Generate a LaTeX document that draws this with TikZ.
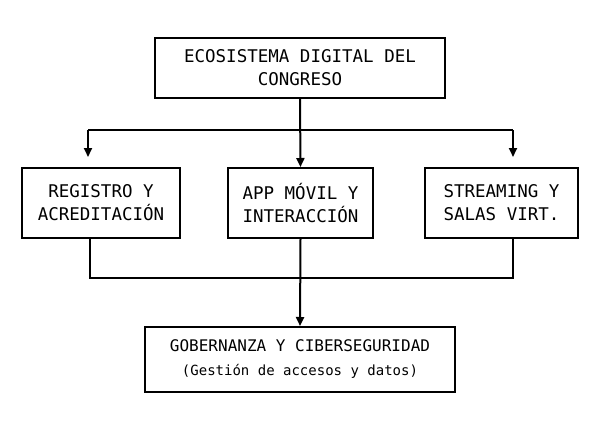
\documentclass[tikz,border=0pt]{standalone}
\usepackage{fontspec}
\setmonofont{DejaVu Sans Mono}
\usetikzlibrary{arrows.meta}
\begin{document}
\begin{tikzpicture}[x=1pt,y=-1pt,
  box/.style={draw,line width=2pt,inner sep=0pt,font=\ttfamily\fontsize{17.5}{23}\selectfont,align=center},
  ln/.style={line width=2pt},
  ar/.style={ln,-{Triangle[length=9pt,width=8pt]}}]
\useasboundingbox (0,0) rectangle (600,431);
\node[box,minimum width=290pt,minimum height=60pt] (top) at (300,68) {ECOSISTEMA DIGITAL DEL\\CONGRESO};
\node[box,minimum width=158pt,minimum height=70pt] (l) at (101,203) {REGISTRO Y\\ACREDITACIÓN};
\node[box,minimum width=145pt,minimum height=70pt] (m) at (300.5,203) {APP MÓVIL Y\\INTERACCIÓN};
\node[box,minimum width=153pt,minimum height=70pt] (r) at (501.5,203) {STREAMING Y\\SALAS VIRT.};
\node[box,minimum width=310pt,minimum height=65pt,font=\ttfamily\fontsize{16}{24}\selectfont] (b) at (300,359.5) {GOBERNANZA Y CIBERSEGURIDAD\\\fontsize{14}{24}\selectfont (Gestión de accesos y datos)};
\draw[ln] (88,130) -- (513,130);
\draw[ar] (top.south) -- (m.north);
\draw[ar] (88,130) -- (88,157);
\draw[ar] (513,130) -- (513,157);
\draw[ln] (90,238) |- (300,278) -| (513,238);
\draw[ar] (m.south) -- (b.north);
\end{tikzpicture}
\end{document}
